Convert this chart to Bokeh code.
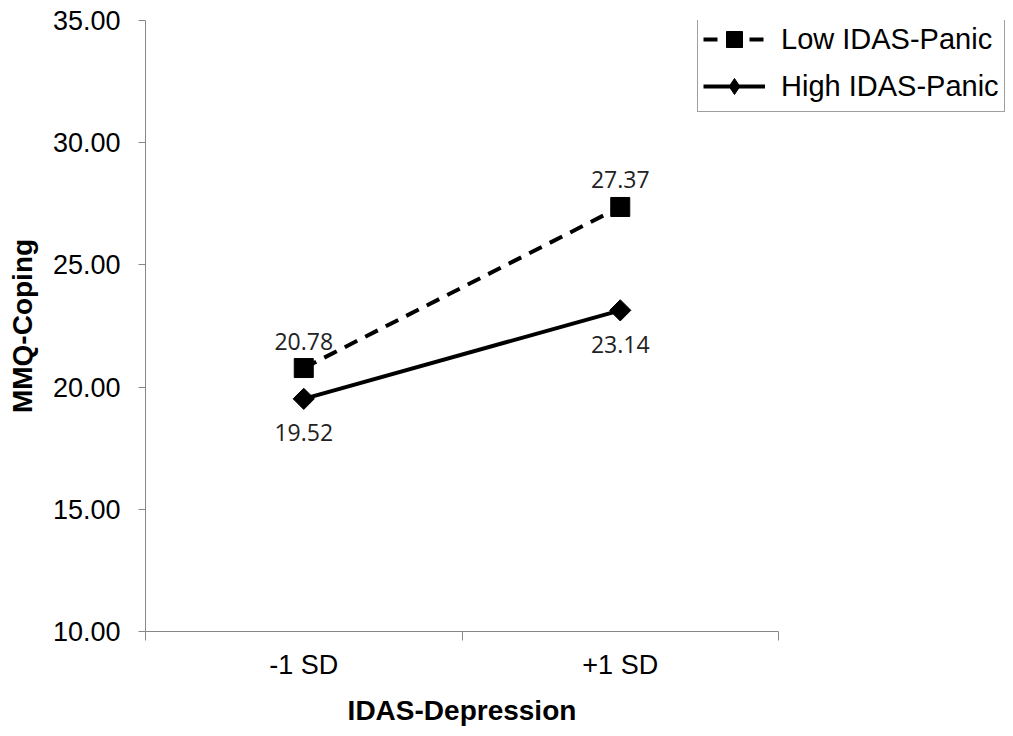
import math
from bokeh.plotting import figure
from bokeh.models import FixedTicker, Range1d, Legend, LegendItem, PrintfTickFormatter, Title
from bokeh.core.properties import value
from bokeh.embed import file_html
from bokeh.resources import INLINE

categories = ["-1 SD", "+1 SD"]
low_panic = [20.78, 27.37]
high_panic = [19.52, 23.14]
y_ticks = [10, 15, 20, 25, 30, 35]
series_names = ["Low IDAS-Panic", "High IDAS-Panic"]
x_title = "IDAS-Depression"
y_title = "MMQ-Coping"

xs = [i + 0.5 for i in range(len(categories))]
bounds = list(range(len(categories) + 1))

AX = "#878787"
FONT = "Liberation Sans"

# plot frame spans 145..1013 px; the category axis occupies 145..778 px
W, LEFT, AXIS_W = 1013, 145, 633
x_end = len(categories) * (W - LEFT) / AXIS_W

p = figure(width=W, height=736, output_backend="svg", toolbar_location=None,
           x_range=Range1d(0, x_end), y_range=Range1d(min(y_ticks), max(y_ticks)),
           min_border_left=LEFT, min_border_right=0, min_border_top=20, min_border_bottom=105)
p.outline_line_color = None
p.grid.visible = False
p.background_fill_color = "white"
p.border_fill_color = "white"

# x axis
xa = p.xaxis[0]
xa.bounds = (0, len(categories))
xa.ticker = FixedTicker(ticks=xs, minor_ticks=bounds)
xa.major_label_overrides = {x: c for x, c in zip(xs, categories)}
xa.major_tick_out = 0
xa.major_tick_in = 0
xa.minor_tick_out = 9
xa.minor_tick_in = 0
xa.minor_tick_line_color = AX
xa.axis_line_color = AX
xa.major_label_text_font = FONT
xa.major_label_text_font_size = "27px"
xa.major_label_text_color = "black"
xa.major_label_standoff = 9

# x axis title, centred under the category axis (not the wider frame)
TITLE_PX = 28
title_w = 8.17 * TITLE_PX
xt = Title(text=x_title, align="left", offset=AXIS_W / 2 - title_w / 2,
           text_font=FONT, text_font_style="bold", text_font_size=f"{TITLE_PX}px",
           text_color="black", standoff=21)
p.add_layout(xt, "below")

# y axis
ya = p.yaxis[0]
ya.ticker = FixedTicker(ticks=y_ticks, minor_ticks=[])
ya.formatter = PrintfTickFormatter(format="%.2f")
ya.major_tick_out = 7
ya.major_tick_in = 0
ya.major_tick_line_color = AX
ya.axis_line_color = AX
ya.major_label_text_font = FONT
ya.major_label_text_font_size = "27px"
ya.major_label_text_color = "black"
ya.major_label_standoff = 18
ya.axis_label = y_title
ya.axis_label_text_font = FONT
ya.axis_label_text_font_style = "bold"
ya.axis_label_text_font_size = "28px"
ya.axis_label_text_color = "black"
ya.axis_label_standoff = 12

# series
low_line = p.line(xs, low_panic, line_width=4, line_color="black", line_dash="14 9")
low_pts = p.scatter(xs, low_panic, marker="square", size=19, color="black")
high_line = p.line(xs, high_panic, line_width=4, line_color="black")
# legend key for the diamond marker (legend ignores marker angle); hidden under the points
high_key = p.scatter(xs, high_panic, marker="diamond", size=9, color="black")
high_pts = p.scatter(xs, high_panic, marker="square", angle=math.pi / 4, size=15, color="black")

# data labels
p.text(xs, low_panic, text=[f"{v:.2f}" for v in low_panic], y_offset=-27,
       text_align="center", text_baseline="middle", text_font=value("Open Sans"),
       text_font_size="23px", text_color="#222222")
p.text(xs, high_panic, text=[f"{v:.2f}" for v in high_panic], y_offset=34,
       text_align="center", text_baseline="middle", text_font=value("Open Sans"),
       text_font_size="23px", text_color="#222222")

legend = Legend(items=[LegendItem(label=series_names[0], renderers=[low_line, low_pts]),
                       LegendItem(label=series_names[1], renderers=[high_line, high_key])],
                location=(552, 519))
legend.border_line_color = "#404040"
legend.border_line_width = 1
legend.background_fill_color = "white"
legend.background_fill_alpha = 1
legend.label_text_font = FONT
legend.label_text_font_size = "29px"
legend.label_text_color = "black"
legend.glyph_width = 62
legend.glyph_height = 40
legend.label_height = 40
legend.label_standoff = 16
legend.spacing = 7
legend.padding = 5
legend.margin = 0
p.add_layout(legend)

open("out.html", "w").write(file_html(p, INLINE))
